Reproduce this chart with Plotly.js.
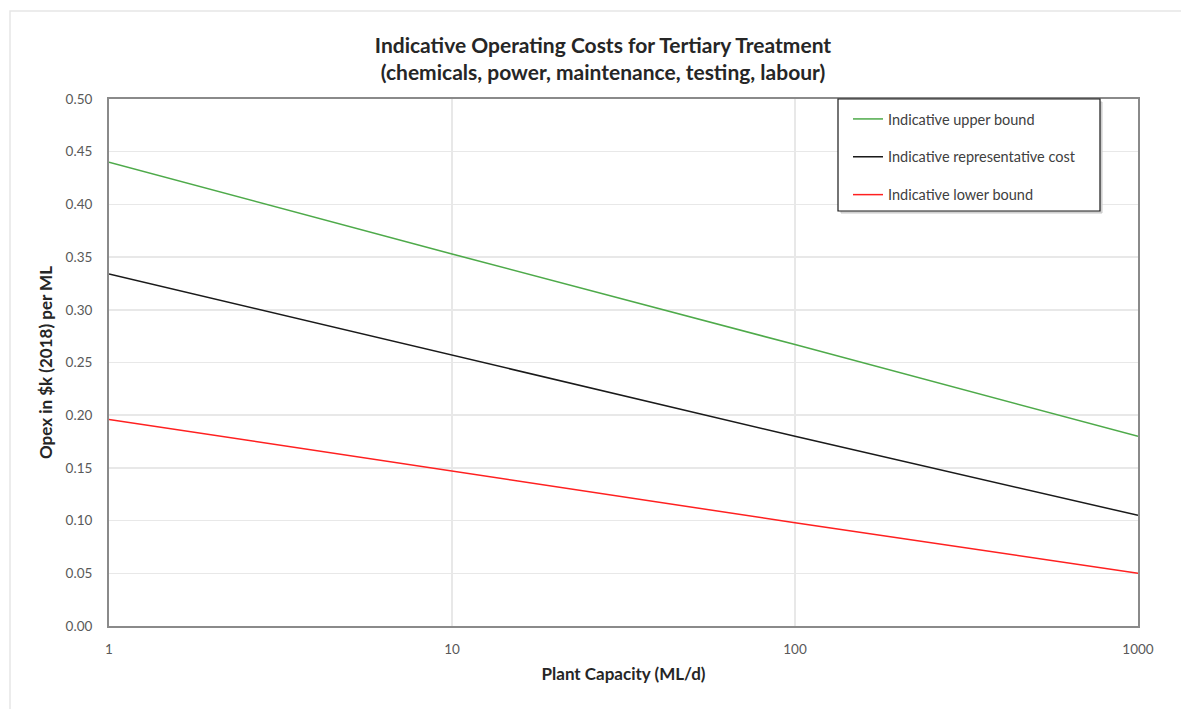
<!DOCTYPE html>
<html>
<head>
<meta charset="utf-8">
<script src="https://cdn.plot.ly/plotly-3.0.1.min.js"></script>
<style>html,body{margin:0;padding:0;background:#fff;}#chart{width:1181px;height:709px;}</style>
</head>
<body>
<div id="chart"></div>
<script>
// Data
const capacity = [1, 10, 100, 1000];
const upperBound = [0.440, 0.353, 0.267, 0.180];
const representative = [0.334, 0.257, 0.180, 0.105];
const lowerBound = [0.196, 0.147, 0.098, 0.050];
const seriesNames = ["Indicative upper bound", "Indicative representative cost", "Indicative lower bound"];
const yTicks = [0, 0.05, 0.10, 0.15, 0.20, 0.25, 0.30, 0.35, 0.40, 0.45, 0.50];
const xTicks = [1, 10, 100, 1000];

const W = 1181, H = 709;
const L = 109, R = 1138, T = 99, B = 626;
const pw = R - L, ph = B - T;
const px = v => (v - L) / pw;
const py = v => (B - v) / ph;

const FONT = "Lato, 'Open Sans', sans-serif";

const traces = [
  {x: capacity, y: upperBound, name: seriesNames[0], mode: "lines", line: {color: "#4eaa4a", width: 1.5}, legendgroup: "a"},
  {x: capacity, y: representative, name: seriesNames[1], mode: "lines", line: {color: "#1a1a1a", width: 1.5}, legendgroup: "b"},
  {x: capacity, y: lowerBound, name: seriesNames[2], mode: "lines", line: {color: "#ff2020", width: 1.5}, legendgroup: "c"}
];

const layout = {
  width: W, height: H,
  margin: {l: L, r: W - R, t: T, b: H - B, pad: 0},
  paper_bgcolor: "#fff", plot_bgcolor: "#fff",
  font: {family: FONT, color: "#595959", size: 13.5},
  title: {
    text: "<b>Indicative Operating Costs for Tertiary Treatment<br>(chemicals, power, maintenance, testing, labour)</b>",
    font: {family: FONT, size: 21, color: "#262626"},
    xref: "container", x: 603 / W, xanchor: "center",
    yref: "container", y: 1 - 53 / H, yanchor: "top"
  },
  xaxis: {
    type: "log", range: [0, 3],
    tickvals: xTicks, ticktext: xTicks.map(String),
    showgrid: true, gridcolor: "#e8e8e8", gridwidth: 1.5,
    showline: true, linecolor: "#8a8a8a", linewidth: 2, mirror: true,
    ticks: "outside", ticklen: 10, tickcolor: "rgba(0,0,0,0)",
    tickfont: {size: 13.5, color: "#595959"},
    zeroline: false,
    title: {text: "<b>Plant Capacity (ML/d)</b>", font: {size: 17, color: "#262626"}, standoff: 12}
  },
  yaxis: {
    range: [0, 0.5],
    tickvals: yTicks, tickformat: ".2f",
    showgrid: true, gridcolor: "#e8e8e8", gridwidth: 1.5,
    showline: true, linecolor: "#8a8a8a", linewidth: 2, mirror: true,
    ticks: "outside", ticklen: 12, tickcolor: "rgba(0,0,0,0)",
    tickfont: {size: 13.5, color: "#595959"},
    zeroline: false,
    title: {text: "<b>Opex in $k (2018) per ML</b>", font: {size: 17, color: "#262626"}, standoff: 9}
  },
  showlegend: true,
  legend: {
    x: px(848), xanchor: "left", y: py(103), yanchor: "top",
    bgcolor: "rgba(0,0,0,0)", borderwidth: 0,
    font: {family: FONT, size: 14.5, color: "#404040"},
    traceorder: "grouped", tracegroupgap: 16
  },
  shapes: [
    // faint outer frame of the picture
    {type: "rect", xref: "paper", yref: "paper", x0: px(10), x1: px(1200), y0: py(730), y1: py(11),
     line: {color: "#e6e6e6", width: 1.5}, fillcolor: "rgba(0,0,0,0)", layer: "below"},
    // legend shadow
    {type: "rect", xref: "paper", yref: "paper", x0: px(841), x1: px(1102), y0: py(213), y1: py(102),
     line: {color: "#c8c8c8", width: 1}, fillcolor: "#d8d8d8", layer: "above"},
    // legend box
    {type: "rect", xref: "paper", yref: "paper", x0: px(838), x1: px(1100), y0: py(211), y1: py(99),
     line: {color: "#1a1a1a", width: 1.2}, fillcolor: "#ffffff", layer: "above"}
  ]
};

Plotly.newPlot("chart", traces, layout, {displayModeBar: false, staticPlot: true});
</script>
</body>
</html>
